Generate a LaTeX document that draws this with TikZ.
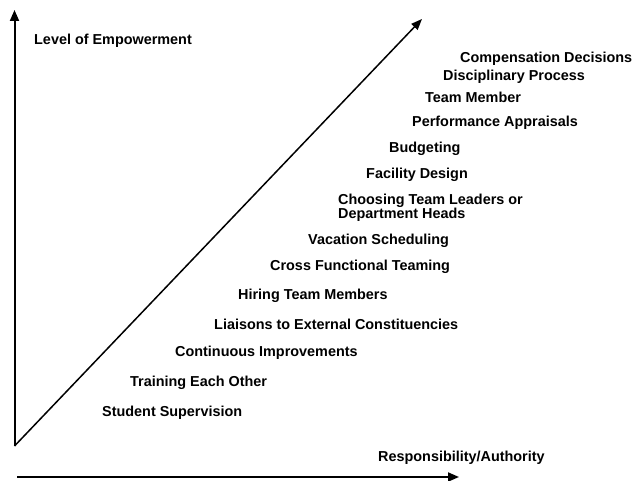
\documentclass[tikz,border=0pt]{standalone}
\usepackage{fontspec}
\setmainfont{Liberation Sans}
\usetikzlibrary{arrows.meta}
\begin{document}
\begin{tikzpicture}[x=1pt,y=-1pt,
  lbl/.style={anchor=west,inner sep=0pt,text height=10.4pt,text depth=0pt,
    font=\fontsize{14.4}{14}\selectfont\bfseries},
  axis/.style={line width=2pt,-{Triangle[length=11pt,width=9pt]}},
  trend/.style={line width=1.5pt,-{Triangle[length=11pt,width=8.5pt]}}]
\useasboundingbox (0,0) rectangle (632,481);
% axes and trend line
\coordinate (origin) at (14.5,446);
\coordinate (ytip) at (14.5,10);
\coordinate (dtip) at (422,19);
\coordinate (xstart) at (17,477);
\coordinate (xtip) at (459,477);
\draw[axis] (origin) -- (ytip);
\draw[trend] (origin) -- (dtip);
\draw[axis] (xstart) -- (xtip);
% axis titles
\node[lbl] (ylab) at (34,39) {Level of Empowerment};
\node[lbl] (xlab) at (378,456) {Responsibility/Authority};
% empowerment items, from highest to lowest
\node[lbl] (comp) at (460,57) {Compensation Decisions};
\node[lbl] (disc) at (443,75) {Disciplinary Process};
\node[lbl] (team) at (425,97) {Team Member};
\node[lbl] (perf) at (412,121) {Performance Appraisals};
\node[lbl] (budg) at (389,147) {Budgeting};
\node[lbl] (faci) at (366,173) {Facility Design};
\node[lbl] (choose1) at (338,199) {Choosing Team Leaders or};
\node[lbl] (choose2) at (338,213) {Department Heads};
\node[lbl] (vaca) at (308,239) {Vacation Scheduling};
\node[lbl] (cross) at (270,265) {Cross Functional Teaming};
\node[lbl] (hire) at (238,294) {Hiring Team Members};
\node[lbl] (liai) at (214,324) {Liaisons to External Constituencies};
\node[lbl] (cont) at (175,351) {Continuous Improvements};
\node[lbl] (train) at (130,381) {Training Each Other};
\node[lbl] (stud) at (102,411) {Student Supervision};
\end{tikzpicture}
\end{document}
